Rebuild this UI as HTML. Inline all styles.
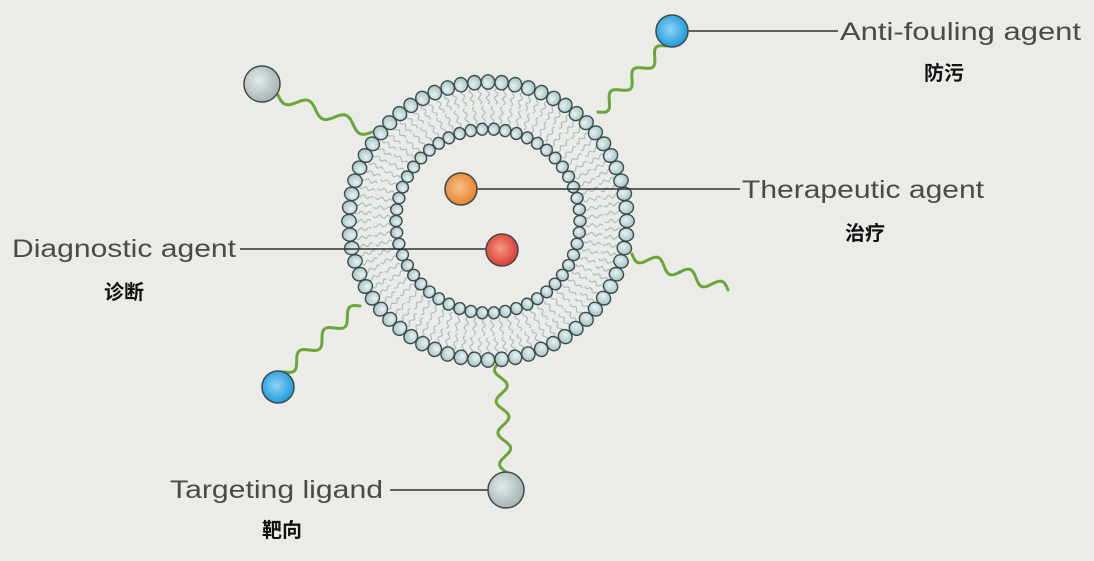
<!DOCTYPE html>
<html><head><meta charset="utf-8"><style>
html,body{margin:0;padding:0;background:#ebebe7;}
svg{display:block}
.t{font-family:"Liberation Sans",sans-serif;font-size:25px;fill:#4a4a4a}
.c{font-family:"Liberation Sans","Noto Sans CJK SC",sans-serif;font-size:20px;font-weight:bold;fill:#111}
</style></head><body>
<svg id="s" width="1094" height="561" viewBox="0 0 1094 561" xmlns="http://www.w3.org/2000/svg">
<defs>
<radialGradient id="gb" cx="0.4" cy="0.4" r="0.6"><stop offset="0" stop-color="#e6f2f2"/><stop offset="1" stop-color="#a9c6c8"/></radialGradient>
<radialGradient id="gg" cx="0.4" cy="0.4" r="0.6"><stop offset="0" stop-color="#e4e9e9"/><stop offset="1" stop-color="#a8b4b5"/></radialGradient>
<radialGradient id="gblue" cx="0.45" cy="0.45" r="0.6"><stop offset="0" stop-color="#8fd3f5"/><stop offset="1" stop-color="#1596dc"/></radialGradient>
<radialGradient id="gor" cx="0.45" cy="0.45" r="0.6"><stop offset="0" stop-color="#f7c08a"/><stop offset="1" stop-color="#e57f25"/></radialGradient>
<radialGradient id="gred" cx="0.45" cy="0.45" r="0.6"><stop offset="0" stop-color="#f59a86"/><stop offset="1" stop-color="#d8332a"/></radialGradient>
</defs>
<g id="tails" stroke="#a9c0c3" stroke-width="1.2" fill="none"></g>
<g id="chains" stroke="#6aa63a" stroke-width="3" fill="none" stroke-linecap="round"></g>
<g id="beads" stroke="#3f4a4c" stroke-width="1.4"></g>
<g stroke="#333" stroke-width="1.5">
<line x1="688" y1="31" x2="838" y2="31"/>
<line x1="477" y1="189" x2="740" y2="189"/>
<line x1="240" y1="249" x2="486" y2="249"/>
<line x1="390" y1="490" x2="488" y2="490"/>
</g>
<g stroke="#3f4a4c" stroke-width="1.5">
<circle cx="262" cy="84" r="18" fill="url(#gg)"/>
<circle cx="672" cy="31" r="16" fill="url(#gblue)"/>
<circle cx="461" cy="189" r="16" fill="url(#gor)"/>
<circle cx="502" cy="250" r="16" fill="url(#gred)"/>
<circle cx="278" cy="387" r="16" fill="url(#gblue)"/>
<circle cx="506" cy="490" r="18" fill="url(#gg)"/>
</g>
<text class="t" x="840" y="40" textLength="241" lengthAdjust="spacingAndGlyphs">Anti-fouling agent</text>
<text class="c" x="924" y="80">防污</text>
<text class="t" x="742" y="198" textLength="242" lengthAdjust="spacingAndGlyphs">Therapeutic agent</text>
<text class="c" x="845" y="240">治疗</text>
<text class="t" x="12" y="257" textLength="224" lengthAdjust="spacingAndGlyphs">Diagnostic agent</text>
<text class="c" x="104" y="299">诊断</text>
<text class="t" x="170" y="498" textLength="213" lengthAdjust="spacingAndGlyphs">Targeting ligand</text>
<text class="c" x="262" y="537">靶向</text>
</svg>
<script>
var NS="http://www.w3.org/2000/svg",cx=488,cy=221;
function el(p,n,a){var e=document.createElementNS(NS,n);for(var k in a)e.setAttribute(k,a[k]);document.getElementById(p).appendChild(e);}
function wavy(x1,y1,x2,y2,amp,waves){var dx=x2-x1,dy=y2-y1,L=Math.hypot(dx,dy),nx=-dy/L,ny=dx/L,d="",N=60;
for(var i=0;i<=N;i++){var t=i/N,o=amp*Math.sin(t*waves*2*Math.PI);d+=(i?"L":"M")+(x1+dx*t+nx*o).toFixed(1)+" "+(y1+dy*t+ny*o).toFixed(1);}return d;}
for(var i=0;i<96;i++){var a=i/96*2*Math.PI,c=Math.cos(a),s=Math.sin(a);
el("tails","path",{d:wavy(cx+133*c,cy+133*s,cx+117*c,cy+117*s,1.5,2)});}
for(var i=0;i<76;i++){var a=(i+0.5)/76*2*Math.PI,c=Math.cos(a),s=Math.sin(a);
el("tails","path",{d:wavy(cx+98*c,cy+98*s,cx+115*c,cy+115*s,1.5,2)});}
el("chains","path",{d:wavy(278,95,372,132,6,2.5)});
el("chains","path",{d:wavy(666,46,598,112,6,3)});
el("chains","path",{d:wavy(632,254,728,290,6,3)});
el("chains","path",{d:wavy(360,306,284,372,6,3)});
el("chains","path",{d:wavy(500,362,506,472,6,3.5)});
function ring(r,n,rx,ry){for(var i=0;i<n;i++){var a=i/n*2*Math.PI,x=cx+r*Math.cos(a),y=cy+r*Math.sin(a);
el("beads","ellipse",{cx:x.toFixed(1),cy:y.toFixed(1),rx:rx,ry:ry,fill:"url(#gb)",transform:"rotate("+(a*180/Math.PI)+" "+x.toFixed(1)+" "+y.toFixed(1)+")"});}}
ring(139,64,7.2,6.6);
ring(92,50,6,5.6);
</script>
</body></html>
